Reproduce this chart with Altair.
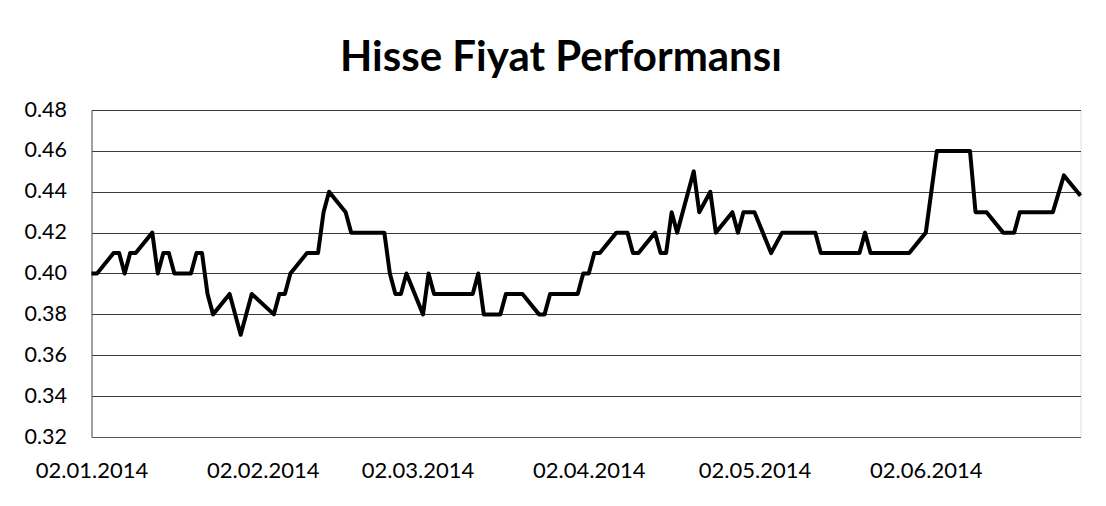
import altair as alt
import pandas as pd

dates = [
    "2014-01-02", "2014-01-03", "2014-01-06", "2014-01-07", "2014-01-08", "2014-01-09",
    "2014-01-10", "2014-01-13", "2014-01-14", "2014-01-15", "2014-01-16", "2014-01-17",
    "2014-01-20", "2014-01-21", "2014-01-22", "2014-01-23", "2014-01-24", "2014-01-27",
    "2014-01-29", "2014-01-31", "2014-02-04", "2014-02-05", "2014-02-06", "2014-02-07",
    "2014-02-10", "2014-02-12", "2014-02-13", "2014-02-14", "2014-02-17", "2014-02-18",
    "2014-02-24", "2014-02-25", "2014-02-26", "2014-02-27", "2014-02-28", "2014-03-03",
    "2014-03-04", "2014-03-05", "2014-03-12", "2014-03-13", "2014-03-14", "2014-03-17",
    "2014-03-18", "2014-03-21", "2014-03-24", "2014-03-25", "2014-03-26", "2014-03-31",
    "2014-04-01", "2014-04-02", "2014-04-03", "2014-04-04", "2014-04-07", "2014-04-09",
    "2014-04-10", "2014-04-11", "2014-04-14", "2014-04-15", "2014-04-16", "2014-04-17",
    "2014-04-18", "2014-04-21", "2014-04-22", "2014-04-24", "2014-04-25", "2014-04-28",
    "2014-04-29", "2014-04-30", "2014-05-02", "2014-05-05", "2014-05-07", "2014-05-13",
    "2014-05-14", "2014-05-21", "2014-05-22", "2014-05-23", "2014-05-30", "2014-06-02",
    "2014-06-04", "2014-06-10", "2014-06-11", "2014-06-13", "2014-06-16", "2014-06-18",
    "2014-06-19", "2014-06-25", "2014-06-27", "2014-06-30",
]
prices = [
    0.40, 0.40, 0.41, 0.41, 0.40, 0.41,
    0.41, 0.42, 0.40, 0.41, 0.41, 0.40,
    0.40, 0.41, 0.41, 0.39, 0.38, 0.39,
    0.37, 0.39, 0.38, 0.39, 0.39, 0.40,
    0.41, 0.41, 0.43, 0.44, 0.43, 0.42,
    0.42, 0.40, 0.39, 0.39, 0.40, 0.38,
    0.40, 0.39, 0.39, 0.40, 0.38, 0.38,
    0.39, 0.39, 0.38, 0.38, 0.39, 0.39,
    0.40, 0.40, 0.41, 0.41, 0.42, 0.42,
    0.41, 0.41, 0.42, 0.41, 0.41, 0.43,
    0.42, 0.45, 0.43, 0.44, 0.42, 0.43,
    0.42, 0.43, 0.43, 0.41, 0.42, 0.42,
    0.41, 0.41, 0.42, 0.41, 0.41, 0.42,
    0.46, 0.46, 0.43, 0.43, 0.42, 0.42,
    0.43, 0.43, 0.448, 0.438,
]
y_ticks = [0.32, 0.34, 0.36, 0.38, 0.40, 0.42, 0.44, 0.46, 0.48]
x_tick_dates = [(2014, 1, 2), (2014, 2, 2), (2014, 3, 2), (2014, 4, 2), (2014, 5, 2), (2014, 6, 2)]

df = pd.DataFrame({"Tarih": dates, "Fiyat": prices})

x_values = [alt.DateTime(year=y, month=m, date=d, utc=True) for (y, m, d) in x_tick_dates]

chart = (
    alt.Chart(df)
    .mark_line(color="#000000", strokeWidth=4, strokeJoin="round")
    .encode(
        x=alt.X(
            "Tarih:T",
            scale=alt.Scale(
                type="utc",
                domain=[
                    alt.DateTime(year=2014, month=1, date=2, utc=True),
                    alt.DateTime(year=2014, month=6, date=30, utc=True),
                ],
            ),
            axis=alt.Axis(
                title=None,
                values=x_values,
                labelExpr="utcFormat(datum.value, '%d.%m.%Y')",
                grid=False,
                ticks=False,
                domain=True,
                domainColor="#555555",
                labelFont="Lato",
                labelFontSize=22,
                labelColor="#000000",
                labelPadding=23,
                labelFlush=False,
                labelOverlap=False,
            ),
        ),
        y=alt.Y(
            "Fiyat:Q",
            scale=alt.Scale(domain=[0.32, 0.48], nice=False, zero=False),
            axis=alt.Axis(
                title=None,
                values=y_ticks,
                format=".2f",
                grid=True,
                gridColor="#3a3a3a",
                gridWidth=1,
                ticks=False,
                domain=True,
                domainColor="#555555",
                labelFont="Lato",
                labelFontSize=21.5,
                labelColor="#000000",
                labelPadding=25,
            ),
        ),
    )
    .properties(
        width=989,
        height=327,
        title=alt.TitleParams(
            "Hisse Fiyat Performansı",
            font="Lato",
            fontSize=42,
            fontWeight="bold",
            color="#000000",
            anchor="middle",
            offset=19,
            dx=-25,
        ),
        autosize=alt.AutoSizeParams(type="none"),
        padding={"left": 83.5, "top": 102, "right": 10, "bottom": 62},
    )
    .configure_view(stroke=None)
    .configure(background="#ffffff")
)

chart.save("out.html", embed_options={"renderer": "svg", "actions": False})
